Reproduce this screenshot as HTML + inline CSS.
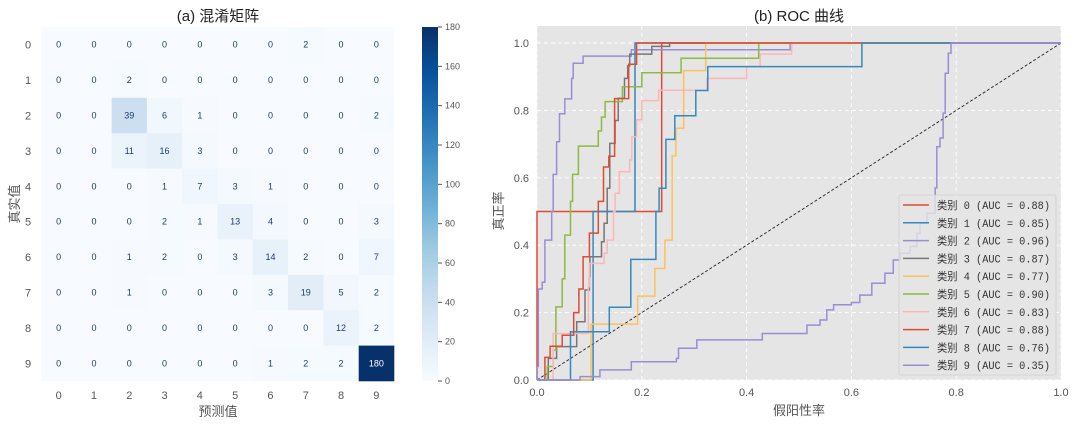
<!DOCTYPE html>
<html><head><meta charset="utf-8">
<style>
body{margin:0;background:#fff;}
svg{display:block;font-family:"Liberation Sans","WenQuanYi Zen Hei","Noto Sans CJK SC",sans-serif;}
</style></head>
<body>
<svg id="fig" width="1078" height="425" viewBox="0 0 1078 425">
  <g id="cm"></g>
  <g id="roc"></g>
</svg>
<script>
// ---------- Confusion matrix data ----------
const cmLabels = ["0","1","2","3","4","5","6","7","8","9"];
const cmRow0 = [0,0,0,0,0,0,0,2,0,0];
const cmRow1 = [0,0,2,0,0,0,0,0,0,0];
const cmRow2 = [0,0,39,6,1,0,0,0,0,2];
const cmRow3 = [0,0,11,16,3,0,0,0,0,0];
const cmRow4 = [0,0,0,1,7,3,1,0,0,0];
const cmRow5 = [0,0,0,2,1,13,4,0,0,3];
const cmRow6 = [0,0,1,2,0,3,14,2,0,7];
const cmRow7 = [0,0,1,0,0,0,3,19,5,2];
const cmRow8 = [0,0,0,0,0,0,0,0,12,2];
const cmRow9 = [0,0,0,0,0,0,1,2,2,180];
const cmRows = [cmRow0,cmRow1,cmRow2,cmRow3,cmRow4,cmRow5,cmRow6,cmRow7,cmRow8,cmRow9];
const cbTicks = [0,20,40,60,80,100,120,140,160,180];

// ---------- ROC data ----------
const rocNames = ["类别 0 (AUC = 0.88)","类别 1 (AUC = 0.85)","类别 2 (AUC = 0.96)","类别 3 (AUC = 0.87)","类别 4 (AUC = 0.77)","类别 5 (AUC = 0.90)","类别 6 (AUC = 0.83)","类别 7 (AUC = 0.88)","类别 8 (AUC = 0.76)","类别 9 (AUC = 0.35)"];
const fpr0 = [0,0,0.238,0.238,1];
const tpr0 = [0,0.5,0.5,1,1];
const fpr1 = [0,0.107,0.107,0.187,0.187,1];
const tpr1 = [0,0,0.5,0.5,1,1];
const fpr2 = [0,0,0.0025,0.0025,0.01,0.01,0.015,0.015,0.028,0.028,0.031,0.031,0.0375,0.0375,0.043,0.043,0.053,0.053,0.066,0.066,0.069,0.069,0.088,0.088,0.18,0.18,0.483,0.483,1];
const tpr2 = [0,0.04,0.04,0.27,0.27,0.29,0.29,0.415,0.415,0.5,0.5,0.61,0.61,0.707,0.707,0.79,0.79,0.834,0.834,0.895,0.895,0.94,0.94,0.961,0.961,0.98,0.98,1,1];
const fpr3 = [0,0.0216,0.0216,0.0375,0.0375,0.0757,0.0757,0.0916,0.0916,0.1,0.1,0.101,0.101,0.123,0.123,0.128,0.128,0.134,0.134,0.139,0.139,0.149,0.149,0.155,0.155,0.167,0.167,0.173,0.173,0.177,0.177,0.219,0.219,0.253,0.253,1];
const tpr3 = [0,0,0.064,0.064,0.099,0.099,0.173,0.173,0.267,0.267,0.307,0.307,0.366,0.366,0.41,0.41,0.465,0.465,0.569,0.569,0.702,0.702,0.77,0.77,0.836,0.836,0.895,0.895,0.932,0.932,0.967,0.967,0.99,0.99,1,1];
const fpr4 = [0,0.103,0.103,0.192,0.192,0.225,0.225,0.244,0.244,0.258,0.258,0.265,0.265,0.28,0.28,0.322,0.322,1];
const tpr4 = [0,0,0.166,0.166,0.249,0.249,0.331,0.331,0.415,0.415,0.665,0.665,0.747,0.747,0.918,0.918,1,1];
const fpr5 = [0,0.0197,0.0197,0.031,0.031,0.036,0.036,0.048,0.048,0.053,0.053,0.064,0.064,0.068,0.068,0.079,0.079,0.117,0.117,0.123,0.123,0.13,0.13,0.163,0.163,0.2,0.2,0.275,0.275,0.423,0.423,1];
const tpr5 = [0,0,0.04,0.04,0.089,0.089,0.217,0.217,0.3,0.3,0.43,0.43,0.53,0.53,0.61,0.61,0.694,0.694,0.739,0.739,0.78,0.78,0.826,0.826,0.87,0.87,0.912,0.912,0.955,0.955,1,1];
const fpr6 = [0,0.031,0.031,0.098,0.098,0.1,0.1,0.128,0.128,0.134,0.134,0.146,0.146,0.149,0.149,0.157,0.157,0.177,0.177,0.181,0.181,0.19,0.19,0.2,0.2,0.232,0.232,0.324,0.324,0.4,0.4,0.426,0.426,0.486,0.486,1];
const tpr6 = [0,0,0.138,0.138,0.277,0.277,0.346,0.346,0.376,0.376,0.415,0.415,0.5,0.5,0.554,0.554,0.618,0.618,0.653,0.653,0.722,0.722,0.772,0.772,0.829,0.829,0.86,0.86,0.895,0.895,0.93,0.93,0.967,0.967,1,1];
const fpr7 = [0,0.015,0.015,0.025,0.025,0.048,0.048,0.07,0.07,0.08,0.08,0.088,0.088,0.1,0.1,0.117,0.117,0.127,0.127,0.137,0.137,0.148,0.148,0.175,0.175,0.19,0.19,1];
const tpr7 = [0,0,0.067,0.067,0.1,0.1,0.133,0.133,0.2,0.2,0.27,0.27,0.366,0.366,0.436,0.436,0.53,0.53,0.632,0.632,0.664,0.664,0.835,0.835,0.937,0.937,1,1];
const fpr8 = [0,0.064,0.064,0.138,0.138,0.179,0.179,0.227,0.227,0.233,0.233,0.246,0.246,0.263,0.263,0.303,0.303,0.326,0.326,0.62,0.62,1];
const tpr8 = [0,0,0.143,0.143,0.216,0.216,0.358,0.358,0.5,0.5,0.569,0.569,0.714,0.714,0.784,0.784,0.859,0.859,0.93,0.93,1,1];
const fpr9 = [0,0.082,0.082,0.12,0.12,0.18,0.18,0.266,0.266,0.27,0.27,0.305,0.305,0.43,0.43,0.515,0.515,0.54,0.54,0.553,0.553,0.566,0.566,0.6,0.6,0.616,0.616,0.639,0.639,0.664,0.664,0.68,0.68,0.693,0.693,0.712,0.712,0.725,0.725,0.731,0.731,0.744,0.744,0.76,0.76,0.763,0.763,0.769,0.769,0.775,0.775,0.779,0.779,0.785,0.785,0.79,0.79,1];
const tpr9 = [0,0,0.01,0.01,0.03,0.03,0.054,0.054,0.064,0.064,0.094,0.094,0.119,0.119,0.138,0.138,0.163,0.163,0.178,0.178,0.208,0.208,0.223,0.223,0.23,0.23,0.252,0.252,0.287,0.287,0.317,0.317,0.356,0.356,0.376,0.376,0.396,0.396,0.435,0.435,0.465,0.465,0.495,0.495,0.57,0.57,0.692,0.692,0.718,0.718,0.792,0.792,0.91,0.91,0.97,0.97,1,1];
const rocFprs = [fpr0,fpr1,fpr2,fpr3,fpr4,fpr5,fpr6,fpr7,fpr8,fpr9];
const rocTprs = [tpr0,tpr1,tpr2,tpr3,tpr4,tpr5,tpr6,tpr7,tpr8,tpr9];
const rocTicks = [0,0.2,0.4,0.6,0.8,1.0];

const NS="http://www.w3.org/2000/svg";
function mk(parent,tag,attrs,text){const e=document.createElementNS(NS,tag);for(const k in attrs)e.setAttribute(k,attrs[k]);if(text!==undefined)e.textContent=text;parent.appendChild(e);return e;}

const blues=["#f7fbff","#deebf7","#c6dbef","#9ecae1","#6baed6","#4292c6","#2171b5","#08519c","#08306b"];
function hex(c){return [parseInt(c.slice(1,3),16),parseInt(c.slice(3,5),16),parseInt(c.slice(5,7),16)];}
function cmap(t){t=Math.max(0,Math.min(1,t));const p=t*8;const i=Math.min(7,Math.floor(p));const f=p-i;const a=hex(blues[i]),b=hex(blues[i+1]);return "rgb("+a.map((v,k)=>Math.round(v+(b[k]-v)*f)).join(",")+")";}

const cm=document.getElementById('cm');
const hx0=41,hy0=27,cw=35.3,ch=35.4,vmax=180;
const cx=j=>hx0+j*cw, cy=i=>hy0+i*ch;
cmRows.forEach((row,i)=>{row.forEach((v,j)=>{
  const r=mk(cm,'rect',{x:cx(j),y:cy(i),width:cw+0.3,height:ch+0.3,fill:cmap(v/vmax)});
  
  
  const t=mk(cm,'text',{x:cx(j)+cw/2,y:cy(i)+ch/2+3,'text-anchor':'middle','font-size':'9',fill:v>100?'#ffffff':'#1f3a6e'},String(v));
  
  
});});
cmLabels.forEach((l,k)=>{
  const a=mk(cm,'text',{x:cx(k)+cw/2,y:399,'text-anchor':'middle','font-size':'11',fill:'#555'},l);
  
  
  const b=mk(cm,'text',{x:28,y:cy(k)+ch/2+4,'text-anchor':'middle','font-size':'11',fill:'#555'},l);
  
  
});
const cbx=422,cbw=16,cby0=27,cby1=381;
const grad=mk(document.getElementById('fig'),'defs',{});
const lg=mk(grad,'linearGradient',{id:'cbg',x1:0,y1:1,x2:0,y2:0});
for(let k=0;k<=8;k++)mk(lg,'stop',{offset:k/8,'stop-color':blues[k]});
const cbr=mk(cm,'rect',{x:cbx,y:cby0,width:cbw,height:cby1-cby0,fill:'url(#cbg)'});


cbTicks.forEach(v=>{
  const y=cby1-(v/vmax)*(cby1-cby0);
  mk(cm,'line',{x1:cbx+cbw,x2:cbx+cbw+4,y1:y,y2:y,stroke:'#555','stroke-width':1});
  const t=mk(cm,'text',{x:cbx+cbw+7,y:y+3,'font-size':'9',fill:'#555'},String(v));
  
  
});
</script>
<script>
(function(){
const cm=document.getElementById('cm');
function mk(parent,tag,attrs,text){const e=document.createElementNS("http://www.w3.org/2000/svg",tag);for(const k in attrs)e.setAttribute(k,attrs[k]);if(text!==undefined)e.textContent=text;parent.appendChild(e);return e;}
let t=mk(cm,'text',{x:218,y:21,'text-anchor':'middle','font-size':'15',fill:'#222'},'(a) 混淆矩阵');


t=mk(cm,'text',{x:218,y:416,'text-anchor':'middle','font-size':'13',fill:'#555'},'预测值');


t=mk(cm,'text',{x:0,y:0,'text-anchor':'middle','font-size':'13',fill:'#555',transform:'translate(19,204) rotate(-90)'},'真实值');


})();

(function(){
const roc=document.getElementById('roc');
function mk(parent,tag,attrs,text){const e=document.createElementNS("http://www.w3.org/2000/svg",tag);for(const k in attrs)e.setAttribute(k,attrs[k]);if(text!==undefined)e.textContent=text;parent.appendChild(e);return e;}
const X0=537,X1=1061,Y0=380,Y1=43;
const sx=v=>X0+v*(X1-X0), sy=v=>Y0-v*(Y0-Y1);
const bg=mk(roc,'rect',{x:X0,y:26,width:X1-X0,height:Y0-26,fill:'#e5e5e5'});


rocTicks.forEach(v=>{
  mk(roc,'line',{x1:sx(v),x2:sx(v),y1:26,y2:Y0,stroke:'#fff','stroke-width':0.9,'stroke-dasharray':'4,3'});
  mk(roc,'line',{x1:X0,x2:X1,y1:sy(v),y2:sy(v),stroke:'#fff','stroke-width':0.9,'stroke-dasharray':'4,3'});
  let t=mk(roc,'text',{x:sx(v),y:396,'text-anchor':'middle','font-size':'11',fill:'#555'},v.toFixed(1));
  
  
  t=mk(roc,'text',{x:529,y:sy(v)+4,'text-anchor':'end','font-size':'11',fill:'#555'},v.toFixed(1));
  
  
});
const colors=['#E24A33','#348ABD','#988ED5','#777777','#FBC15E','#8EBA42','#FFB5B8','#E24A33','#348ABD','#988ED5'];
const diag=mk(roc,'line',{x1:sx(0),y1:sy(0),x2:sx(1),y2:sy(1),stroke:'#222','stroke-width':0.9,'stroke-dasharray':'3,2'});


rocFprs.forEach((f,k)=>{
  const tp=rocTprs[k];
  const pts=f.map((v,i)=>sx(v).toFixed(1)+','+sy(tp[i]).toFixed(1)).join(' ');
  const p=mk(roc,'polyline',{points:pts,fill:'none',stroke:colors[k],'stroke-width':1.5});
  
  
});
const lgG=mk(roc,'g',{});


mk(lgG,'rect',{x:899,y:195,width:157,height:180,fill:'#e5e5e5','fill-opacity':0.8,stroke:'#d0d0d0','stroke-width':0.8,rx:2});
rocNames.forEach((n,k)=>{
  const y=205+k*17.8;
  const e=mk(lgG,'g',{});
  
  
  mk(e,'line',{x1:903,x2:929,y1:y,y2:y,stroke:colors[k],'stroke-width':1.5});
  mk(e,'text',{x:937,y:y+4,'font-size':'11',fill:'#333','textLength':'113','lengthAdjust':'spacingAndGlyphs','font-family':'"Liberation Mono","WenQuanYi Zen Hei",monospace'},n);
});
let t=mk(roc,'text',{x:799,y:21,'text-anchor':'middle','font-size':'15',fill:'#222'},'(b) ROC 曲线');


t=mk(roc,'text',{x:799,y:415,'text-anchor':'middle','font-size':'13',fill:'#555'},'假阳性率');


t=mk(roc,'text',{x:0,y:0,'text-anchor':'middle','font-size':'13',fill:'#555',transform:'translate(503,211) rotate(-90)'},'真正率');


})();
</script>
</body></html>
